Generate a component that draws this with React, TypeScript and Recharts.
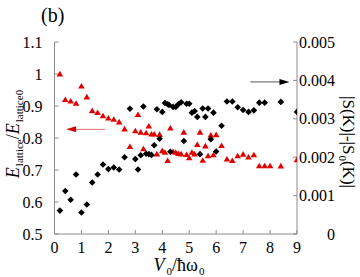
import React from 'react';
import { ComposedChart, Scatter, XAxis, YAxis, ReferenceLine } from 'recharts';

// lattice energy ratio (left axis), red triangles
const ratioV0 = [
  0.2, 0.4, 0.6, 0.8, 1.0, 1.2, 1.4, 1.6, 1.8, 2.0, 2.2, 2.4, 2.6, 2.8, 3.0, 3.1, 3.2, 3.3, 3.4, 3.5,
  3.6, 3.7, 3.8, 3.9, 4.0, 4.1, 4.2, 4.3, 4.4, 4.5, 4.6, 4.7, 4.8, 4.9, 5.0, 5.1, 5.2, 5.3, 5.4, 5.5,
  5.6, 5.7, 5.8, 5.9, 6.0, 6.2, 6.4, 6.6, 6.8, 7.0, 7.2, 7.4, 7.6, 7.8, 8.0, 8.4, 9.0,
];
const ratioValues = [
  1.0, 0.92, 0.915, 0.908, 0.962, 0.928, 0.885, 0.879, 0.869, 0.862, 0.858, 0.85, 0.828, 0.773, 0.822, 0.873, 0.818, 0.766, 0.816, 0.837,
  0.812, 0.812, 0.75, 0.811, 0.76, 0.755, 0.729, 0.831, 0.757, 0.755, 0.751, 0.75, 0.818, 0.748, 0.738, 0.755, 0.75, 0.779, 0.818, 0.73,
  0.775, 0.744, 0.809, 0.747, 0.81, 0.776, 0.734, 0.729, 0.744, 0.749, 0.74, 0.747, 0.713, 0.713, 0.713, 0.7125, 0.732,
];

// |S(K)|-|S0(K)| (right axis), black diamonds
const sV0 = [
  0.2, 0.4, 0.6, 0.8, 1.0, 1.2, 1.4, 1.6, 1.8, 2.0, 2.2, 2.4, 2.6, 2.8, 3.0, 3.1, 3.2, 3.3, 3.4, 3.5,
  3.6, 3.7, 3.8, 3.9, 4.0, 4.1, 4.2, 4.25, 4.3, 4.4, 4.5, 4.6, 4.7, 4.8, 4.9, 5.0, 5.1, 5.2, 5.3, 5.4,
  5.5, 5.6, 5.7, 5.8, 5.9, 6.0, 6.2, 6.4, 6.6, 6.8, 7.0, 7.2, 7.4, 7.6, 7.8, 8.4, 9.0,
];
const sValues = [
  0.00061, 0.00112, 0.00089, 0.00155, 0.00056, 0.00077, 0.00134, 0.00155, 0.00181, 0.00169, 0.00173, 0.00168, 0.002, 0.00326, 0.00195, 0.00168, 0.00205, 0.00332, 0.00209, 0.00208,
  0.00206, 0.00231, 0.00325, 0.00248, 0.00318, 0.00341, 0.00338, 0.00336, 0.00214, 0.00331, 0.00331, 0.00338, 0.00343, 0.00242, 0.00339, 0.00339, 0.00316, 0.0032, 0.00305, 0.00208,
  0.00327, 0.00305, 0.00327, 0.00247, 0.00316, 0.00215, 0.00282, 0.00345, 0.00345, 0.0033, 0.00323, 0.00318, 0.00322, 0.00342, 0.00342, 0.00344, 0.00318,
];

const xTicks = [0, 1, 2, 3, 4, 5, 6, 7, 8, 9];
const leftTicks = [0.5, 0.6, 0.7, 0.8, 0.9, 1, 1.1];
const rightTicks = [0, 0.001, 0.002, 0.003, 0.004, 0.005];

const ratioData = ratioV0.map((x, i) => ({ x, y: ratioValues[i] }));
const sData = sV0.map((x, i) => ({ x, y: sValues[i] }));

const serif = '"Liberation Serif", "DejaVu Serif", serif';
const frame = '#8c8c8c';
const tickFont = { fill: '#000', fontSize: 16, fontFamily: serif, style: { fontFamily: serif } };
const subStyle: React.CSSProperties = { fontSize: 11, position: 'relative', top: 4, marginLeft: 1 };

const Triangle = (props: any) => {
  const { cx, cy } = props;
  return <polygon points={`${cx},${cy - 3.2} ${cx + 3.3},${cy + 2.4} ${cx - 3.3},${cy + 2.4}`} fill="#e00000" />;
};

const Diamond = (props: any) => {
  const { cx, cy } = props;
  return <polygon points={`${cx},${cy - 3.3} ${cx + 3.3},${cy} ${cx},${cy + 3.3} ${cx - 3.3},${cy}`} fill="#000" />;
};

const arrow = (lineColor: string, headColor: string) => (props: any) => {
  const { x1, y1, x2, y2 } = props;
  const dir = x2 > x1 ? 1 : -1;
  return (
    <g>
      <line x1={x1} y1={y1} x2={x2 - dir * 6} y2={y2} stroke={lineColor} strokeWidth={1} />
      <polygon points={`${x2},${y2} ${x2 - dir * 10},${y2 - 3} ${x2 - dir * 10},${y2 + 3}`} fill={headColor} />
    </g>
  );
};

export default function App() {
  return (
    <div style={{ position: 'absolute', left: 0, top: 0, width: 360, height: 277, background: '#fff', fontFamily: serif }}>
      <ComposedChart width={360} height={277} margin={{ top: 42, right: 0, bottom: 0, left: 0 }} style={{ fontFamily: serif }}>
        <XAxis
          xAxisId="b"
          type="number"
          dataKey="x"
          domain={[0, 9]}
          ticks={xTicks}
          height={43}
          stroke={frame}
          tickSize={-4}
          tickMargin={12}
          tick={tickFont}
          allowDataOverflow
        />
        <XAxis
          xAxisId="t"
          orientation="top"
          type="number"
          dataKey="x"
          domain={[0, 9]}
          ticks={xTicks}
          height={0}
          stroke={frame}
          tickSize={-4}
          tickFormatter={() => ''}
          allowDataOverflow
        />
        <YAxis
          yAxisId="l"
          type="number"
          dataKey="y"
          domain={[0.5, 1.1]}
          ticks={leftTicks}
          width={54.5}
          stroke={frame}
          tickSize={-4}
          tickMargin={16}
          tick={tickFont}
          tickFormatter={(v: number) => (v === 1 ? '1' : v.toFixed(1))}
          allowDataOverflow
        />
        <YAxis
          yAxisId="r"
          orientation="right"
          type="number"
          dataKey="y"
          domain={[0, 0.005]}
          ticks={rightTicks}
          width={63}
          stroke={frame}
          tickSize={-4}
          tickMargin={42}
          tick={{ ...tickFont, textAnchor: 'end' }}
          tickFormatter={(v: number) => (v === 0 ? '0' : v.toFixed(3))}
          allowDataOverflow
        />
        <Scatter xAxisId="b" yAxisId="l" data={ratioData} dataKey="y" shape={Triangle} isAnimationActive={false} />
        <Scatter xAxisId="b" yAxisId="r" data={sData} dataKey="y" shape={Diamond} isAnimationActive={false} />
        <ReferenceLine
          xAxisId="b"
          yAxisId="l"
          segment={[{ x: 1.88, y: 0.827 }, { x: 0.43, y: 0.827 }]}
          shape={arrow('#e07070', '#d00000')}
        />
        <ReferenceLine
          xAxisId="b"
          yAxisId="r"
          segment={[{ x: 7.27, y: 0.00396 }, { x: 8.72, y: 0.00396 }]}
          shape={arrow('#555', '#000')}
        />
      </ComposedChart>

      <div style={{ position: 'absolute', left: 41, top: 4, fontSize: 20 }}>(b)</div>

      <div
        style={{
          position: 'absolute',
          left: 179,
          top: 266,
          transform: 'translate(-50%, -50%)',
          whiteSpace: 'nowrap',
          fontSize: 18,
          lineHeight: '16px',
        }}
      >
        <i style={{ marginRight: 1 }}>V</i>
        <span style={subStyle}>0</span>/ħω<span style={subStyle}>0</span>
      </div>

      <div
        style={{
          position: 'absolute',
          left: 14,
          top: 134,
          transform: 'translate(-50%, -50%) rotate(-90deg)',
          whiteSpace: 'nowrap',
          fontSize: 18,
          lineHeight: '16px',
        }}
      >
        <i>E</i>
        <span style={subStyle}>lattice</span>/<i>E</i>
        <span style={subStyle}>lattice0</span>
      </div>

      <div
        style={{
          position: 'absolute',
          left: 347,
          top: 142,
          transform: 'translate(-50%, -50%) rotate(90deg)',
          whiteSpace: 'nowrap',
          fontSize: 17,
          lineHeight: '16px',
        }}
      >
        |S(K)|-|S<span style={subStyle}>0</span>(K)|
      </div>
    </div>
  );
}
